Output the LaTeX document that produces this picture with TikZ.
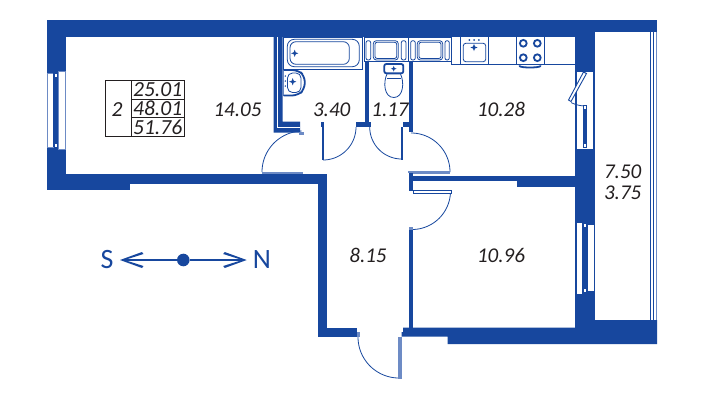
\documentclass[tikz,border=0pt]{standalone}
\usepackage{fontspec}
\setmainfont{Carlito}
\definecolor{wallblue}{HTML}{17479E}
\definecolor{lightblue}{HTML}{6D8BC5}
\definecolor{inkdark}{HTML}{231F20}
\newcommand{\qarc}[6][thinline]{\draw[#1,domain=#5:#6,samples=40,smooth,variable=\t] plot ({#2+#4*cos(\t)},{#3+#4*sin(\t)});}
\tikzset{
  wall/.style={fill=wallblue,draw=none},
  jamb/.style={fill=lightblue,draw=none},
  thinline/.style={draw=wallblue,line width=0.8pt},
  fixture/.style={draw=wallblue,line width=0.8pt,fill=white},
  boldfix/.style={draw=wallblue,line width=1.8pt},
  leaf/.style={draw=wallblue,line width=0.45pt,fill=white},
  winframe/.style={fill=white,draw=wallblue,line width=0.5pt},
  area/.style={font=\fontsize{21}{21}\selectfont\itshape,text=inkdark,inner sep=0pt},
  cell/.style={font=\fontsize{21.5}{21}\selectfont\itshape,text=inkdark,inner sep=0pt},
  compass/.style={font=\fontsize{28}{28}\selectfont,text=wallblue,inner sep=0pt},
  tableline/.style={draw=inkdark,line width=1pt},
  drain/.pic={\fill[wallblue] (-3.6,0)--(-1,-1)--(0,-3.6)--(1,-1)--(3.6,0)--(1,1)--(0,3.6)--(-1,1)--cycle;},
  burner/.style={draw=wallblue,line width=1.8pt,fill=white},
}
\begin{document}
\begin{tikzpicture}[x=1pt,y=-1pt]
\useasboundingbox (0,0) rectangle (704,400);
\fill[white] (0,0) rectangle (704,400);
% outer walls
\fill[wall] (47,20) rectangle (657,32);
\fill[wall] (47,20) rectangle (594.5,37);
\fill[wall] (47,20) rectangle (66,190);
\fill[wall] (47,173.7) rectangle (326.7,184);
\fill[wall] (47,184) rectangle (130,190);
\fill[wall] (318.3,173.7) rectangle (326.7,336.7);
\fill[wall] (318.3,327.7) rectangle (357.3,336.7);
\fill[wall] (575,32) rectangle (594.5,327.7);
\fill[wall] (403,327.7)--(403,332)--(401.5,332)--(401.5,336.7)--(447.7,336.7)--(447.7,344)--(657,344)--(657,320)--(575,320)--(575,327.7)--cycle;
% inner walls
\fill[wall] (516.7,176) rectangle (575,187);
\fill[wall] (413,176) rectangle (575,181);
\fill[wall] (408.7,228.3) rectangle (413.3,327.7);
\fill[wall] (408.7,172) rectangle (413.3,191);
\fill[wall] (273.5,37)--(282.7,37)--(282.7,121.7)--(300,121.7)--(300,132.7)--(273.5,132.7)--cycle;
\draw[white,line width=0.8pt] (277.7,37)--(277.7,127.2)--(299.5,127.2);
\fill[wall] (365,61.7) rectangle (369.3,127);
\fill[wall] (356,122) rectangle (370.7,127);
\fill[wall] (408.7,61.7) rectangle (412.7,131.7);
\fill[wall] (403,122) rectangle (409,127);
\fill[wall] (320.7,121.7) rectangle (323.8,127);
% balcony rail
\draw[thinline] (650,32)--(650,320);
\draw[thinline] (653.4,32)--(653.4,320);
\draw[draw=lightblue,line width=0.8pt] (656.7,32)--(656.7,320);
% left window
\fill[white] (47.5,73) rectangle (53.3,147);
\draw[draw=lightblue,line width=0.6pt] (47.5,73) rectangle (53.3,147);
\fill[white] (58,71.5) rectangle (65,149);
\draw[draw=lightblue,line width=0.6pt] (58,71.5) rectangle (65,149);
\fill[wall] (53.3,72) rectangle (58,147);
\fill[white] (54.5,74) rectangle (57,77);
\fill[white] (54.5,144) rectangle (57,147);
% kitchen window
\filldraw[winframe] (576,71) rectangle (593.3,149.3);
\fill[wall] (582.7,105) rectangle (587.3,148);
\fill[white] (584,106) rectangle (586,109);
\fill[white] (584,144) rectangle (586,147);
\draw[leaf,line width=0.9pt] (583.5,72)--(586.5,73.5)--(571,101.5)--(568.5,100)--cycle;
\qarc{586}{72}{34}{95}{116}
% bedroom window
\filldraw[winframe] (576,222.3) rectangle (582.3,294);
\filldraw[winframe] (587.3,224.3) rectangle (594,291.7);
\fill[white] (583.5,224) rectangle (586,227);
\fill[white] (583.5,289) rectangle (586,292);
% bath
\draw[fixture] (283.3,37) rectangle (362.7,69.3);
\draw[fixture,rounded corners=7pt] (287.3,39.3) rectangle (359.3,66.7);
\draw[fixture,rounded corners=6pt] (290,41.7) rectangle (349.3,64.3);
\pic at (294.7,53.3) {drain};
% washbasin
\draw[fixture] (283.2,69.3)--(283.2,96);
\draw[boldfix,fill=white,rounded corners=6pt] (283.5,70)--(298,70)--(304.8,76)--(304.8,89)--(298,95.5)--(283.5,95.5);
\draw[thinline,rounded corners=5pt] (287.5,73) rectangle (301,92.5);
\fill[wallblue] (285.3,76) circle (0.8) (285.3,81) circle (0.8) (285.3,86) circle (0.8);
\pic at (292.7,81.7) {drain};
% washing units
\draw[fixture] (364,37) rectangle (408.3,61.7);
\draw[fixture] (408.3,37) rectangle (451.7,61.7);
\draw[thinline,rounded corners=2pt] (366,40.7) rectangle (370.7,60);
\draw[thinline,rounded corners=2pt] (401.3,40.7) rectangle (406,60);
\draw[thinline,rounded corners=3pt] (373.3,40.7) rectangle (398.3,60);
\draw[thinline,rounded corners=2pt] (375,42.3) rectangle (396.7,58.4);
\draw[thinline,rounded corners=2pt] (410.7,40.7) rectangle (415.3,60);
\draw[thinline,rounded corners=2pt] (445,40.7) rectangle (449.3,60);
\draw[thinline,rounded corners=3pt] (417.3,40.7) rectangle (442.7,60);
\draw[thinline,rounded corners=2pt] (419,42.3) rectangle (441,58.4);
% toilet
\draw[boldfix,fill=white,rounded corners=2pt] (384.3,64) rectangle (403.3,73.3);
\pic[scale=0.8] at (393.7,68.7) {drain};
\draw[thinline,fill=white] (387,74) .. controls (383,82) and (384,97.5) .. (393.8,97.5) .. controls (403.5,97.5) and (404.5,82) .. (400.5,74) -- cycle;
\draw[thinline] (387,78)--(400.5,78);
% kitchen counter
\draw[thinline] (451.7,61.7)--(451.7,64.3)--(575,64.3);
\draw[thinline] (451.3,37)--(451.3,64.3);
\draw[thinline] (460.7,37)--(460.7,64.3);
\draw[thinline] (488.3,37)--(488.3,64.3);
\draw[thinline] (516.7,37)--(516.7,64.3);
\draw[thinline] (544.3,37)--(544.3,64.3);
\draw[thinline,rounded corners=2.5pt] (463.3,43.3) rectangle (485.7,61.7);
\pic at (474,47.5) {drain};
\fill[wallblue] (469.3,40) circle (1) (474,40) circle (1) (478.9,40) circle (1);
\draw[burner] (523.3,43.3) circle (3.4);
\draw[burner] (537.3,43.3) circle (3.4);
\draw[burner] (523.3,57.7) circle (3.4);
\draw[burner] (537.3,57.7) circle (3.4);
\draw[boldfix,line cap=round] (519.5,66) .. controls (521,68) and (539,68) .. (540.5,66);
% doors
\qarc{303}{172}{41}{180}{268}
\fill[jamb] (261.7,171.5) rectangle (303,174);
\fill[jamb] (299,131.5) rectangle (304,135);
\qarc{323}{127}{33}{0}{90}
\filldraw[leaf] (321.8,127) rectangle (323.6,159.5);
\qarc{401.7}{127}{32}{90}{180}
\filldraw[leaf] (400.8,127) rectangle (402.6,159.5);
\qarc{411}{172}{39}{-90}{0}
\fill[jamb] (413.3,170.7) rectangle (450.3,173.5);
\fill[jamb] (408,171) rectangle (413.3,173);
\qarc{412}{191}{38.5}{0}{90}
\filldraw[leaf] (413.3,190.7) rectangle (451,193);
\fill[jamb] (408.7,227) rectangle (413.3,229.5);
\qarc{399}{337}{41}{90}{180}
\fill[jamb] (398.2,336.7) rectangle (401.5,378.5);
\fill[jamb] (357.3,332) rectangle (359.5,337);
% table
\draw[tableline] (105,80.7) rectangle (184.3,136);
\draw[tableline] (131,80.7)--(131,136);
\draw[tableline] (131,99)--(184.3,99);
\draw[tableline] (131,117.7)--(184.3,117.7);
\node[cell] (rooms) at (117,110) {2};
\node[cell] (living) at (157.7,90) {25.01};
\node[cell] (total) at (157.7,108.3) {48.01};
\node[cell] (full) at (157.7,127) {51.76};
% areas
\node[area] (a1) at (237.5,110) {14.05};
\node[area] (a2) at (331.7,109.5) {3.40};
\node[area] (a3) at (390,109.5) {1.17};
\node[area] (a4) at (501,109.5) {10.28};
\node[area] (a5) at (622.7,171.7) {7.50};
\node[area] (a6) at (622.7,192.3) {3.75};
\node[area] (a7) at (368,255.7) {8.15};
\node[area] (a8) at (501,255.7) {10.96};
% compass
\node[compass] (south) at (107,260) {S};
\node[compass] (north) at (262,260) {N};
\node[circle,fill=wallblue,minimum size=12.6pt,inner sep=0pt] (hub) at (183.3,260) {};
\coordinate (stip) at (120,260);
\coordinate (ntip) at (246.7,260);
\draw[wallblue,line width=1.6pt] (hub)--(126,260);
\draw[wallblue,line width=1.6pt] (hub)--(241,260);
\fill[wallblue] (stip)--(142,252)--(143.5,254)--(127,259.2)--(127,260.8)--(143.5,266)--(142,268)--cycle;
\fill[wallblue] (ntip)--(224.7,252)--(223.2,254)--(239.7,259.2)--(239.7,260.8)--(223.2,266)--(224.7,268)--cycle;
\end{tikzpicture}
\end{document}
